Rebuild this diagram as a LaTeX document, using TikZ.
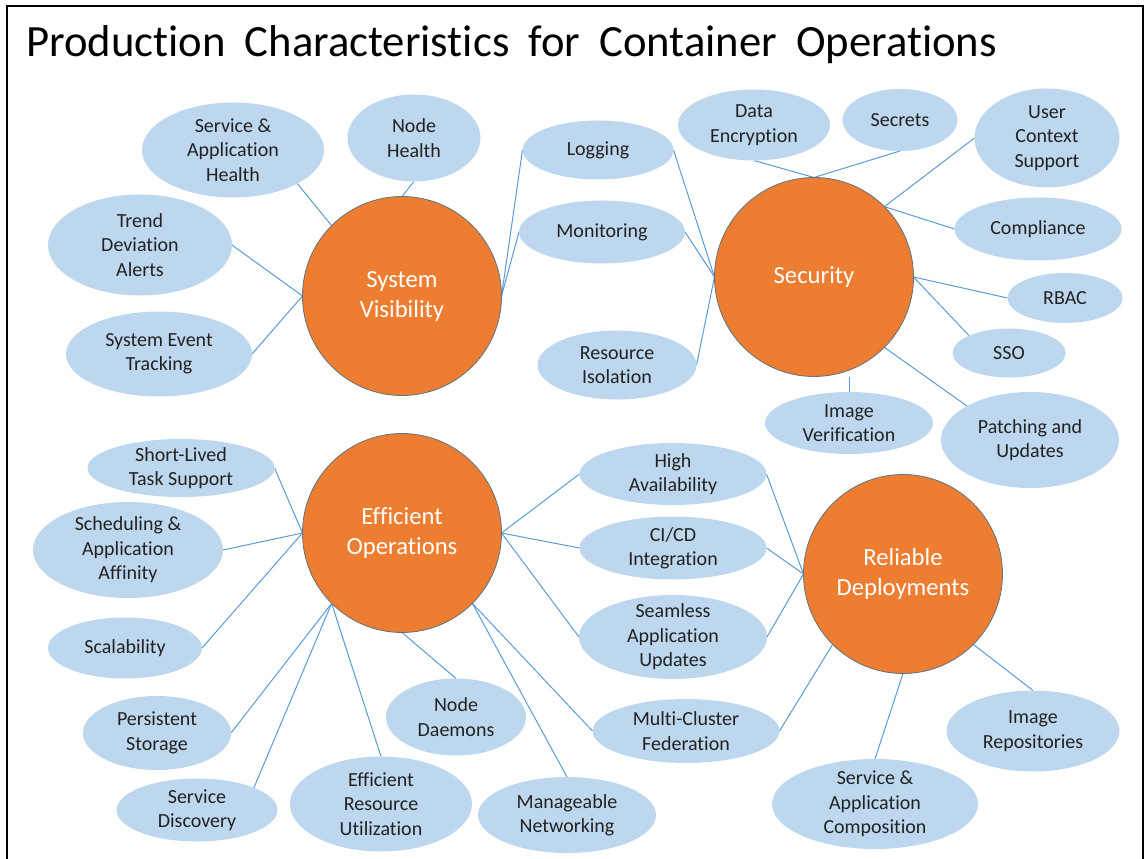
\documentclass[tikz,border=0pt]{standalone}
\usepackage{fontspec}
\setmainfont{Carlito}[Ligatures=NoCommon]
\usetikzlibrary{shapes.geometric,backgrounds}
\definecolor{hubc}{HTML}{ED7D31}
\definecolor{leafc}{HTML}{BDD7EE}
\definecolor{linkc}{HTML}{5B9BD5}
\definecolor{hubline}{HTML}{5F7384}
\definecolor{textc}{HTML}{222222}
\begin{document}
\begin{tikzpicture}[x=0.75pt,y=-0.75pt,
  leaftext/.style={align=center, text=textc, font=\fontsize{15}{18.3}\selectfont, inner sep=0pt},
  leaf/.style n args={3}{ellipse, fill=leafc, inner sep=0pt, outer sep=0pt,
    minimum width=#1*0.75pt, minimum height=#2*0.75pt,
    label={[leaftext]center:#3}},
  hub/.style={circle, fill=hubc, draw=hubline, line width=0.6pt, inner sep=0pt, outer sep=0pt,
    minimum size=199*0.75pt, align=center, text=white, font=\fontsize{18.5}{22.5}\selectfont},
  conn/.style={draw=linkc, line width=0.75pt},
  frame/.style={draw=black, line width=1.6pt}
]
\useasboundingbox (0,0) rectangle (1146,859);
\draw[frame] (7,862) -- (7,6) -- (1143,6) -- (1143,862);

\node[anchor=base west, inner sep=0pt, font={\fontsize{33.5}{40}\selectfont\spaceskip=14.3pt}] (title) at (26,57) {Production Characteristics for Container Operations};

% hubs
\node[hub] (sv)  at (402,296) {System\\Visibility};
\node[hub] (sec) at (814,277) {Security};
\node[hub] (eo)  at (402,533) {Efficient\\Operations};
\node[hub] (rd)  at (903,574) {Reliable\\Deployments};

% system visibility leaves
\node[leaf={182}{95}{Service \&\\Application\\Health}] (sah) at (233,150) {};
\node[leaf={133}{87}{Node\\Health}] (nh) at (414,138) {};
\node[leaf={184}{101}{Trend\\Deviation\\Alerts}] (tda) at (140,245) {};
\node[leaf={186}{85}{System Event\\Tracking}] (set) at (159,354) {};
\node[leaf={151}{59}{Logging}] (log) at (598,150) {};
\node[leaf={166}{63}{Monitoring}] (mon) at (602,232) {};
\node[leaf={159}{69}{Resource\\Isolation}] (ri) at (617,365) {};

% security leaves
\node[leaf={152}{71}{Data\\Encryption}] (de) at (754,125) {};
\node[leaf={115}{62}{Secrets}] (secr) at (900,120) {};
\node[leaf={145}{99}{User\\Context\\Support}] (ucs) at (1047,138) {};
\node[leaf={167}{63}{Compliance}] (comp) at (1038,229) {};
\node[leaf={115}{50}{RBAC}] (rbac) at (1065,298) {};
\node[leaf={113}{49}{SSO}] (sso) at (1009,353) {};
\node[leaf={168}{62}{Image\\Verification}] (iv) at (849,423) {};
\node[leaf={178}{96}{Patching and\\Updates}] (pat) at (1030,440) {};

% efficient operations leaves
\node[leaf={187}{58}{Short-Lived\\Task Support}] (slt) at (181,468) {};
\node[leaf={190}{96}{Scheduling \&\\Application\\Affinity}] (sch) at (128,550) {};
\node[leaf={154}{61}{Scalability}] (scal) at (125,648) {};
\node[leaf={148}{74}{Persistent\\Storage}] (ps) at (157,733) {};
\node[leaf={161}{63}{Service\\Discovery}] (sd) at (197,810) {};
\node[leaf={182}{95}{Efficient\\Resource\\Utilization}] (eru) at (381,804) {};
\node[leaf={140}{77}{Node\\Daemons}] (nd) at (456,717) {};
\node[leaf={178}{76}{Manageable\\Networking}] (mn) at (567,815) {};
\node[leaf={187}{62}{High\\Availability}] (ha) at (673,474) {};
\node[leaf={187}{63}{CI/CD\\Integration}] (cicd) at (673,548) {};
\node[leaf={188}{84}{Seamless\\Application\\Updates}] (sau) at (673,637) {};
\node[leaf={187}{64}{Multi-Cluster\\Federation}] (mcf) at (686,731) {};

% reliable deployments leaves
\node[leaf={173}{81}{Image\\Repositories}] (ir) at (1033,731) {};
\node[leaf={206}{90}{Service \&\\Application\\Composition}] (sac) at (875,804) {};

\begin{scope}[on background layer]
  % system visibility
  \draw[conn] (sah.south east) -- (sv.north west);
  \draw[conn] (nh.south) -- (sv.north);
  \draw[conn] (tda.east) -- (sv.west);
  \draw[conn] (set.east) -- (sv.west);
  \draw[conn] (log.west) -- (sv.east);
  \draw[conn] (mon.west) -- (sv.east);
  % security
  \draw[conn] (log.east) -- (sec.west);
  \draw[conn] (mon.east) -- (sec.west);
  \draw[conn] (ri.east) -- (sec.west);
  \draw[conn] (de.south) -- (sec.north);
  \draw[conn] (secr.south) -- (sec.north);
  \draw[conn] (ucs.west) -- (sec.north east);
  \draw[conn] (comp.west) -- (sec.north east);
  \draw[conn] (rbac.west) -- (sec.east);
  \draw[conn] (sso.north west) -- (sec.east);
  \draw[conn] (pat.north west) -- (sec.south east);
  \draw[conn] (iv.north) -- (iv.north |- sec.south);
  % efficient operations
  \draw[conn] (slt.east) -- (eo.west);
  \draw[conn] (sch.east) -- (eo.west);
  \draw[conn] (scal.east) -- (eo.west);
  \draw[conn] (ps.east) -- (eo.south west);
  \draw[conn] (sd.north east) -- (eo.south west);
  \draw[conn] (eru.north) -- (eo.south west);
  \draw[conn] (nd.north) -- (eo.south);
  \draw[conn] (mn.north) -- (eo.south east);
  \draw[conn] (mcf.west) -- (eo.south east);
  \draw[conn] (ha.west) -- (eo.east);
  \draw[conn] (cicd.west) -- (eo.east);
  \draw[conn] (sau.west) -- (eo.east);
  % reliable deployments
  \draw[conn] (ha.east) -- (rd.west);
  \draw[conn] (cicd.east) -- (rd.west);
  \draw[conn] (sau.east) -- (rd.west);
  \draw[conn] (mcf.east) -- (rd.south west);
  \draw[conn] (sac.north) -- (rd.south);
  \draw[conn] (ir.north) -- (rd.south east);
\end{scope}
\end{tikzpicture}
\end{document}
